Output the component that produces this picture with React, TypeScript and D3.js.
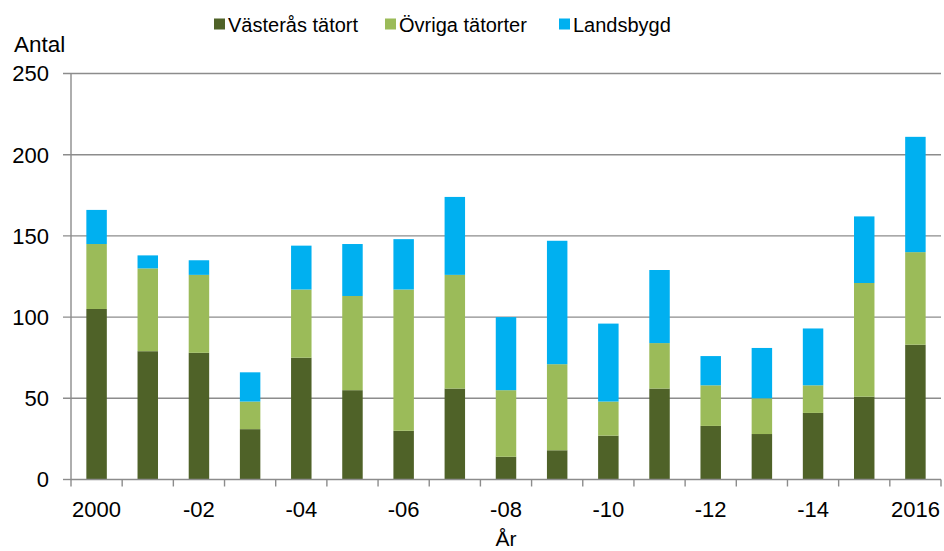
import React from 'react';
import * as d3 from 'd3';

const years = ['2000', '2001', '2002', '2003', '2004', '2005', '2006', '2007', '2008',
    '2009', '2010', '2011', '2012', '2013', '2014', '2015', '2016'];
const yearLabels = ['2000', '', '-02', '', '-04', '', '-06', '', '-08', '', '-10', '', '-12', '', '-14', '', '2016'];
const vasteras = [105, 79, 78, 31, 75, 55, 30, 56, 14, 18, 27, 56, 33, 28, 41, 51, 83];
const ovriga = [40, 51, 48, 17, 42, 58, 87, 70, 41, 53, 21, 28, 25, 22, 17, 70, 57];
const landsbygd = [21, 8, 9, 18, 27, 32, 31, 48, 45, 76, 48, 45, 18, 31, 35, 41, 71];
const seriesNames = ['Västerås tätort', 'Övriga tätorter', 'Landsbygd'];
const seriesColors = ['#4F6228', '#9BBB59', '#00B0F0'];
const yTicks = [0, 50, 100, 150, 200, 250];

const W = 944;
const H = 551;
const margin = { left: 71, right: 3, top: 73.5, bottom: 71.5 };
const font = '"Liberation Sans", Arial, sans-serif';
const gridColor = '#8c8c8c';

export default function App() {
    const innerW = W - margin.left - margin.right;
    const innerH = H - margin.top - margin.bottom;

    const x = d3.scaleBand<string>()
        .domain(years)
        .range([0, innerW])
        .paddingInner(0.6)
        .paddingOuter(0.3);
    const y = d3.scaleLinear().domain([0, 250]).range([innerH, 0]);

    const rows = years.map((yr, i) => ({
        year: yr,
        s0: vasteras[i],
        s1: ovriga[i],
        s2: landsbygd[i],
    }));
    const stacked = d3.stack<any>().keys(['s0', 's1', 's2'])(rows);

    const step = x.step();
    const boundaries = years.map(yr => (x(yr) as number) - step * 0.3);
    boundaries.push(innerW);

    const legendX = [214, 385, 559];

    return (
        <svg width={W} height={H} style={{ position: 'absolute', left: 0, top: 0, background: '#fff' }}
            fontFamily={font}>
            {/* legend */}
            {seriesNames.map((name, i) => (
                <g key={name} transform={`translate(${legendX[i]},18.5)`}>
                    <rect width={11} height={11} fill={seriesColors[i]} />
                    <text x={14} y={13} fontSize={20} fill="#000">{name}</text>
                </g>
            ))}
            <text x={14} y={51.5} fontSize={22.5} fill="#000">Antal</text>
            <g transform={`translate(${margin.left},${margin.top})`}>
                {yTicks.map(t => (
                    <g key={t}>
                        <line x1={-8} x2={t === 0 ? 0 : innerW} y1={y(t)} y2={y(t)}
                            stroke={gridColor} strokeWidth={1.4} />
                        <text x={-22} y={y(t)} dy="0.36em" textAnchor="end" fontSize={22} fill="#000">{t}</text>
                    </g>
                ))}
                {stacked.map((layer, si) => (
                    <g key={si} fill={seriesColors[si]}>
                        {layer.map((d, i) => (
                            <rect key={i}
                                x={x(years[i])}
                                width={x.bandwidth()}
                                y={y(d[1])}
                                height={y(d[0]) - y(d[1])} />
                        ))}
                    </g>
                ))}
                <line x1={0} x2={0} y1={0} y2={innerH} stroke={gridColor} strokeWidth={1.4} />
                <line x1={0} x2={innerW} y1={innerH} y2={innerH} stroke={gridColor} strokeWidth={1.4} />
                {boundaries.map((b, i) => (
                    <line key={i} x1={b} x2={b} y1={innerH} y2={innerH + 7} stroke={gridColor} strokeWidth={1.4} />
                ))}
                {years.map((yr, i) => yearLabels[i] ? (
                    <text key={yr} x={(x(yr) as number) + x.bandwidth() / 2} y={innerH + 37}
                        textAnchor="middle" fontSize={22} fill="#000">{yearLabels[i]}</text>
                ) : null)}
            </g>
            <text x={506} y={546} textAnchor="middle" fontSize={21} fill="#000">År</text>
        </svg>
    );
}
